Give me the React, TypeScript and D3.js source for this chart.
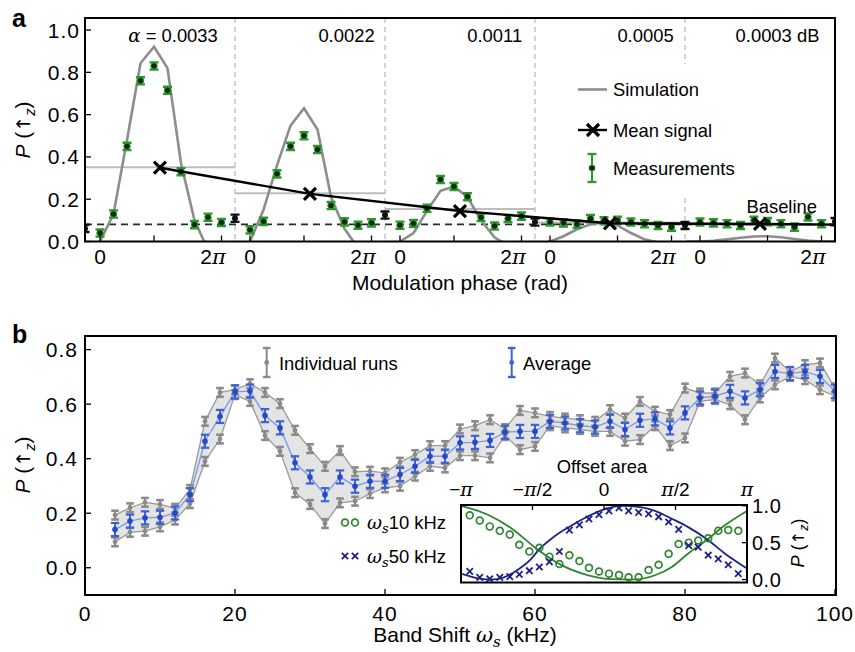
import React from 'react';
import * as d3 from 'd3';

const SANS = "'Liberation Sans', Arial, Helvetica, sans-serif";
const SERIF = "'DejaVu Serif', 'Liberation Serif', serif";

// ---------------- Panel a data ----------------
const SEGMENT_LABELS = ['0.0033', '0.0022', '0.0011', '0.0005', '0.0003 dB'];
// phase of measurements inside one segment, in units of π
const MEAS_PHASE = [0, 0.25, 0.5, 0.75, 1, 1.25, 1.5, 1.75, 2, 2.25];
const MEAS_SEG1 = [0.04, 0.13, 0.45, 0.76, 0.83, 0.715, 0.33, 0.08, 0.115, 0.09];
const MEAS_SEG2 = [0.055, 0.095, 0.32, 0.45, 0.5, 0.435, 0.17, 0.093, 0.077, 0.088];
const MEAS_SEG3 = [0.077, 0.085, 0.157, 0.293, 0.26, 0.212, 0.114, 0.073, 0.109, 0.12];
const MEAS_SEG4 = [0.092, 0.088, 0.082, 0.108, 0.098, 0.1, 0.092, 0.084, 0.076, 0.068];
const MEAS_SEG5 = [0.092, 0.088, 0.084, 0.076, 0.1, 0.094, 0.084, 0.068, 0.116, 0.084];
const MEASUREMENTS = [MEAS_SEG1, MEAS_SEG2, MEAS_SEG3, MEAS_SEG4, MEAS_SEG5];
const MEAS_ERR = 0.017;
// reference points at the segment edges (index of edge 0..5)
const REF_EDGE = [0, 1, 2, 3, 4, 5];
const REF_VALUES = [0.062, 0.11, 0.125, 0.092, 0.076, 0.094];
// simulation, phase in units of π
const SIM_PHASE = [-0.25, 0, 0.25, 0.5, 0.75, 1, 1.25, 1.5, 1.75, 2, 2.25, 2.5];
const SIM_SEG1 = [-0.1, 0.0, 0.13, 0.48, 0.843, 0.921, 0.82, 0.37, 0.1, -0.04, -0.12, -0.15];
const SIM_SEG2 = [-0.08, 0.0, 0.15, 0.36, 0.548, 0.63, 0.53, 0.21, 0.06, -0.03, -0.1, -0.1];
const SIM_SEG3 = [-0.05, 0.0, 0.04, 0.145, 0.24, 0.26, 0.21, 0.1, 0.02, -0.02, -0.04, -0.04];
const SIM_SEG4 = [-0.02, 0.0, 0.025, 0.058, 0.082, 0.09, 0.076, 0.04, 0.01, -0.005, -0.01, -0.01];
const SIM_SEG5 = [0.0, 0.0, 0.003, 0.01, 0.018, 0.024, 0.025, 0.02, 0.012, 0.005, 0.0, 0.0];
const SIMULATION = [SIM_SEG1, SIM_SEG2, SIM_SEG3, SIM_SEG4, SIM_SEG5];
const SIM_MEAN = [0.351, 0.228, 0.154, 0.09, 0.08];
const MEAN_PHASE = 1.11;
const MEAN_VALUES = [0.349, 0.225, 0.144, 0.086, 0.083];
const MEAN_LINE_END = 0.08;
const BASELINE = 0.081;
const A_YTICKS = [0, 0.2, 0.4, 0.6, 0.8, 1.0];
const A_TICK_PHASES = [[0, 1, 2.25], [0, 1, 2.25], [0, 1, 2.25], [0, 1.25, 2.25], [0, 1.25, 2.25]];
const A_TICK_LABEL_PHASES = [0, 2];
const A_TICK_LABELS = ['0', '2'];

// ---------------- Panel b data ----------------
const FREQ = [4, 6, 8, 10, 12, 14, 16, 18, 20, 22, 24, 26, 28, 30, 32, 34, 36, 38, 40, 42, 44, 46, 48, 50,
  52, 54, 56, 58, 60, 62, 64, 66, 68, 70, 72, 74, 76, 78, 80, 82, 84, 86, 88, 90, 92, 94, 96, 98, 100];
const AVERAGE = [0.14, 0.171, 0.183, 0.185, 0.201, 0.268, 0.464, 0.555, 0.645, 0.648, 0.558, 0.513, 0.385,
  0.333, 0.268, 0.333, 0.299, 0.317, 0.317, 0.342, 0.372, 0.409, 0.409, 0.458, 0.46, 0.467, 0.497, 0.5, 0.5,
  0.537, 0.531, 0.521, 0.516, 0.537, 0.507, 0.541, 0.546, 0.513, 0.568, 0.623, 0.629, 0.647, 0.623, 0.653,
  0.72, 0.712, 0.72, 0.702, 0.647];
const RUN_UPPER = [0.193, 0.22, 0.24, 0.232, 0.218, 0.287, 0.537, 0.643, 0.653, 0.675, 0.643, 0.602, 0.504,
  0.437, 0.372, 0.43, 0.352, 0.354, 0.348, 0.387, 0.415, 0.448, 0.448, 0.509, 0.521, 0.543, 0.51, 0.577,
  0.568, 0.555, 0.549, 0.543, 0.537, 0.58, 0.549, 0.61, 0.574, 0.562, 0.659, 0.641, 0.641, 0.702, 0.714,
  0.671, 0.769, 0.72, 0.745, 0.751, 0.66];
const RUN_LOWER = [0.095, 0.13, 0.134, 0.15, 0.175, 0.235, 0.39, 0.472, 0.635, 0.61, 0.485, 0.427, 0.275,
  0.232, 0.162, 0.238, 0.244, 0.272, 0.293, 0.299, 0.336, 0.372, 0.366, 0.411, 0.411, 0.403, 0.485, 0.433,
  0.445, 0.521, 0.513, 0.507, 0.5, 0.5, 0.464, 0.47, 0.521, 0.448, 0.476, 0.61, 0.617, 0.598, 0.543, 0.623,
  0.671, 0.702, 0.69, 0.653, 0.63];
const RUN_ERR = 0.016;
const AVG_ERR = 0.024;
const B_XTICKS = [0, 20, 40, 60, 80, 100];
const B_YTICKS = [0, 0.2, 0.4, 0.6, 0.8];

// ---------------- Inset data ----------------
const INSET_PHASE = [-2.95, -2.73, -2.51, -2.29, -2.07, -1.86, -1.64, -1.42, -1.2, -0.98, -0.76, -0.54, -0.33,
  -0.11, 0.11, 0.33, 0.54, 0.76, 0.98, 1.2, 1.42, 1.64, 1.86, 2.07, 2.29, 2.51, 2.73, 2.95];
const INSET_10KHZ = [0.87, 0.8, 0.72, 0.66, 0.61, 0.47, 0.38, 0.43, 0.31, 0.21, 0.33, 0.25, 0.16, 0.11, 0.08,
  0.06, 0.03, 0.03, 0.13, 0.2, 0.35, 0.48, 0.5, 0.53, 0.56, 0.66, 0.67, 0.66];
const INSET_50KHZ = [0.11, 0.03, 0.01, 0.03, 0.04, 0.07, 0.12, 0.17, 0.24, 0.38, 0.67, 0.74, 0.82, 0.88, 0.93,
  0.97, 0.93, 0.91, 0.89, 0.85, 0.78, 0.68, 0.46, 0.44, 0.33, 0.28, 0.2, 0.08];
const CURVE_10_PHASE = [-3.1416, -2.54, -2.03, -1.44, -0.857, -0.345, 0.17, 0.61, 1.12, 1.49, 1.85, 2.27, 2.66, 3.1416];
const CURVE_10_VALUES = [1.0, 0.874, 0.693, 0.398, 0.171, 0.058, 0.005, 0.0, 0.058, 0.171, 0.353, 0.543, 0.738, 0.93];
const CURVE_50_PHASE = [-3.1416, -2.8, -2.5, -2.2, -1.9, -1.6, -1.44, -1.1, -0.75, -0.4, 0.0, 0.4, 0.8, 1.12, 1.5, 1.85, 2.27, 2.66, 3.1416];
const CURVE_50_VALUES = [0.08, 0.02, 0.0, 0.03, 0.13, 0.28, 0.398, 0.58, 0.72, 0.84, 0.95, 1.0, 0.98, 0.93, 0.82, 0.71, 0.543, 0.35, 0.15];
const INSET_XTICKS = [-Math.PI, -Math.PI / 2, 0, Math.PI / 2, Math.PI];
const INSET_XLABELS = ['−π', '−π/2', '0', 'π/2', 'π'];
const INSET_YTICKS = [0, 0.5, 1.0];

// ---------------- layout / style ----------------
const SEG_SPAN = 2.778; // segment width (π units)
const SEG_OFFSET = 0.278; // phase 0 offset from segment start
const GREEN = '#2a9a2a';
const DOT_DARK = '#0c2a0c';
const SIM_GRAY = '#8d8d8d';
const RUN_GRAY = '#8a8a8a';
const AVG_BLUE = '#3d62d6';
const IN_GREEN = '#2d862d';
const IN_BLUE = '#20208c';

function ErrBar({ x, y0, y1, cap, color, sw, capW }: any) {
  return (
    <g stroke={color}>
      <line x1={x} x2={x} y1={y0} y2={y1} strokeWidth={sw} />
      <line x1={x - cap} x2={x + cap} y1={y0} y2={y0} strokeWidth={capW} />
      <line x1={x - cap} x2={x + cap} y1={y1} y2={y1} strokeWidth={capW} />
    </g>
  );
}

function XMark({ x, y, s, color, sw }: any) {
  return (
    <g stroke={color} strokeWidth={sw} strokeLinecap="butt">
      <line x1={x - s} y1={y - s} x2={x + s} y2={y + s} />
      <line x1={x - s} y1={y + s} x2={x + s} y2={y - s} />
    </g>
  );
}

function PLabel({ x, y, size }: any) {
  return (
    <text transform={`translate(${x},${y}) rotate(-90)`} textAnchor="middle" fontSize={size} fontFamily={SANS}>
      <tspan fontStyle="italic">P</tspan>
      <tspan> (</tspan>
      <tspan fontFamily="'DejaVu Sans', sans-serif" fontSize={size * 0.9}>↑</tspan>
      <tspan fontStyle="italic" fontSize={size * 0.7} dy={size * 0.22}>z</tspan>
      <tspan dy={-size * 0.22}>)</tspan>
    </text>
  );
}

export default function App() {
  // ---- panel a scales ----
  const aL = 85, aR = 835, aT = 18, aB = 241.5;
  const xa = d3.scaleLinear().domain([0, 5 * SEG_SPAN]).range([aL, aR]);
  const ya = d3.scaleLinear().domain([0, 1.057]).range([aB, aT]);
  const pos = (seg: number, ph: number) => seg * SEG_SPAN + SEG_OFFSET + ph;

  const simLine = d3.line<[number, number]>().x(d => xa(d[0])).y(d => ya(d[1]));
  const meanPts: [number, number][] = MEAN_VALUES.map((v, k) => [pos(k, MEAN_PHASE), v] as [number, number]);
  meanPts.push([5 * SEG_SPAN, MEAN_LINE_END]);

  // ---- panel b scales ----
  const bL = 85, bR = 836, bT = 336, bB = 595;
  const xb = d3.scaleLinear().domain([0, 100]).range([85, 835]);
  const yb = d3.scaleLinear().domain([-0.1, 0.85]).range([bB, bT]);
  const idx = FREQ.map((_, i) => i);
  const band = d3.area<number>().x(i => xb(FREQ[i])).y0(i => yb(RUN_LOWER[i])).y1(i => yb(RUN_UPPER[i]));
  const lineOf = (arr: number[]) => d3.line<number>().x(i => xb(FREQ[i])).y(i => yb(arr[i]))(idx) as string;

  // ---- inset scales ----
  const iL = 461, iR = 747, iT = 505, iB = 582.5;
  const xi = d3.scaleLinear().domain([-Math.PI, Math.PI]).range([iL, iR]);
  const yi = d3.scaleLinear().domain([-0.04, 1.01]).range([iB, iT]);
  const curve = (ph: number[], vals: number[]) =>
    d3.line<number>().x(i => xi(ph[i])).y(i => yi(vals[i])).curve(d3.curveMonotoneX)(ph.map((_, i) => i)) as string;

  const tickFont = 21;
  const annFont = 18.4;

  return (
    <svg width={855} height={652} viewBox="0 0 855 652" style={{ position: 'absolute', left: 0, top: 0, background: '#fff' }}
      fontFamily={SANS}>
      <defs>
        <clipPath id="clipA"><rect x={aL} y={aT} width={aR - aL} height={aB - aT} /></clipPath>
        <clipPath id="clipB"><rect x={bL} y={bT} width={bR - bL} height={bB - bT} /></clipPath>
        <clipPath id="clipI"><rect x={iL} y={iT} width={iR - iL} height={iB - iT} /></clipPath>
      </defs>
      <rect x={0} y={0} width={855} height={652} fill="#fff" />

      {/* ================= Panel a ================= */}
      <text x={12} y={27} fontSize={25} fontWeight="bold">a</text>
      <g clipPath="url(#clipA)">
        {[1, 2, 3, 4].map(k => (
          <line key={k} x1={xa(k * SEG_SPAN)} x2={xa(k * SEG_SPAN)} y1={aT} y2={aB}
            stroke="#c2c2c2" strokeWidth={1.4} strokeDasharray="5,4" />
        ))}
        {SIM_MEAN.map((v, k) => (
          <line key={k} x1={xa(k * SEG_SPAN)} x2={xa((k + 1) * SEG_SPAN)} y1={ya(v)} y2={ya(v)}
            stroke="#bdbdbd" strokeWidth={2} />
        ))}
        <line x1={aL} x2={aR} y1={ya(BASELINE)} y2={ya(BASELINE)} stroke="#2a2a2a" strokeWidth={1.8} strokeDasharray="7,5" />
        {SIMULATION.map((vals, k) => (
          <path key={k} d={simLine(vals.map((v, i) => [pos(k, SIM_PHASE[i]), v] as [number, number])) as string}
            fill="none" stroke={SIM_GRAY} strokeWidth={2.6} />
        ))}
        {MEASUREMENTS.map((vals, k) => vals.map((v, i) => {
          const x = xa(pos(k, MEAS_PHASE[i]));
          return (
            <g key={`m${k}-${i}`}>
              <ErrBar x={x} y0={ya(v + MEAS_ERR)} y1={ya(v - MEAS_ERR)} cap={4.5} color={GREEN} sw={2} capW={2.4} />
              <circle cx={x} cy={ya(v)} r={3.2} fill={DOT_DARK} stroke={GREEN} strokeWidth={1} />
            </g>
          );
        }))}
        {REF_VALUES.map((v, k) => {
          const x = xa(REF_EDGE[k] * SEG_SPAN);
          return (
            <g key={`r${k}`}>
              <ErrBar x={x} y0={ya(v + MEAS_ERR)} y1={ya(v - MEAS_ERR)} cap={4.5} color="#111" sw={2} capW={2.4} />
              <circle cx={x} cy={ya(v)} r={3} fill="#111" />
            </g>
          );
        })}
        <path d={simLine(meanPts) as string} fill="none" stroke="#000" strokeWidth={2.4} />
        {meanPts.slice(0, 5).map((p, k) => (
          <XMark key={k} x={xa(p[0])} y={ya(p[1])} s={6} color="#000" sw={3.2} />
        ))}
      </g>
      {/* legend a */}
      <rect x={566} y={64} width={200} height={130} fill="#fff" />
      <line x1={578} x2={607} y1={89.5} y2={89.5} stroke={SIM_GRAY} strokeWidth={2.6} />
      <text x={613} y={96} fontSize={annFont}>Simulation</text>
      <line x1={578} x2={607} y1={130} y2={130} stroke="#000" strokeWidth={2.4} />
      <XMark x={593} y={130} s={6} color="#000" sw={3.2} />
      <text x={613} y={136.5} fontSize={annFont}>Mean signal</text>
      <ErrBar x={592} y0={154} y1={182} cap={4.5} color={GREEN} sw={2} capW={2.4} />
      <circle cx={592} cy={168} r={3} fill={DOT_DARK} stroke={GREEN} strokeWidth={1} />
      <text x={613} y={174.5} fontSize={annFont}>Measurements</text>
      <text x={817} y={213} fontSize={annFont} textAnchor="end">Baseline</text>
      {/* segment labels */}
      <text x={173} y={41.5} fontSize={annFont} textAnchor="middle">
        <tspan fontFamily={SERIF} fontStyle="italic">α</tspan>
        <tspan>{' = ' + SEGMENT_LABELS[0]}</tspan>
      </text>
      {SEGMENT_LABELS.slice(1).map((s, j) => (
        <text key={s} x={[346.5, 494.7, 645.5, 777.5][j]} y={41.5} fontSize={annFont} textAnchor="middle">{s}</text>
      ))}
      {/* frame a */}
      <rect x={aL} y={aT} width={aR - aL} height={aB - aT} fill="none" stroke="#000" strokeWidth={2} />
      {A_YTICKS.map(t => (
        <g key={t}>
          <line x1={aL} x2={aL + 6} y1={ya(t)} y2={ya(t)} stroke="#000" strokeWidth={1.3} />
          <text x={80} y={ya(t) + 7.5} fontSize={tickFont} textAnchor="end" letterSpacing={1}>{t.toFixed(1)}</text>
        </g>
      ))}
      {A_TICK_PHASES.map((phs, k) => phs.map(p => (
        <line key={`t${k}-${p}`} x1={xa(pos(k, p))} x2={xa(pos(k, p))} y1={aB} y2={aB - 6} stroke="#000" strokeWidth={1.3} />
      )))}
      {[0, 1, 2, 3, 4].map(k => A_TICK_LABEL_PHASES.map((p, j) => (
        <text key={`tl${k}-${j}`} x={xa(pos(k, p)) + (j === 1 ? 5 : 0)} y={264} fontSize={tickFont} textAnchor="middle">
          <tspan>{A_TICK_LABELS[j]}</tspan>
          {j === 1 && <tspan fontFamily={SERIF} fontStyle="italic">π</tspan>}
        </text>
      )))}
      <text x={460} y={290} fontSize={21} textAnchor="middle">Modulation phase (rad)</text>
      <PLabel x={30} y={130} size={21} />

      {/* ================= Panel b ================= */}
      <text x={12} y={343} fontSize={25} fontWeight="bold">b</text>
      <g clipPath="url(#clipB)">
        <path d={band(idx) as string} fill="#e4e4e4" />
        <path d={lineOf(RUN_UPPER)} fill="none" stroke="#9a9a9a" strokeWidth={1.3} />
        <path d={lineOf(RUN_LOWER)} fill="none" stroke="#9a9a9a" strokeWidth={1.3} />
        <path d={lineOf(AVERAGE)} fill="none" stroke="#7f9ce8" strokeWidth={1.4} />
        {[RUN_UPPER, RUN_LOWER].map((arr, r) => idx.map(i => (
          <g key={`g${r}-${i}`}>
            <ErrBar x={xb(FREQ[i])} y0={yb(arr[i] + RUN_ERR)} y1={yb(arr[i] - RUN_ERR)} cap={3.8} color={RUN_GRAY} sw={2} capW={2.6} />
            <circle cx={xb(FREQ[i])} cy={yb(arr[i])} r={2.4} fill={RUN_GRAY} />
          </g>
        )))}
        {idx.map(i => (
          <g key={`a${i}`}>
            <ErrBar x={xb(FREQ[i])} y0={yb(AVERAGE[i] + AVG_ERR)} y1={yb(AVERAGE[i] - AVG_ERR)} cap={4.2} color={AVG_BLUE} sw={2} capW={2.2} />
            <circle cx={xb(FREQ[i])} cy={yb(AVERAGE[i])} r={2.8} fill="#2448c8" />
          </g>
        ))}
      </g>
      {/* legend b */}
      <ErrBar x={266.7} y0={348} y1={377} cap={3.8} color={RUN_GRAY} sw={2} capW={2.4} />
      <circle cx={266.7} cy={362.5} r={2.4} fill={RUN_GRAY} />
      <text x={279} y={369.5} fontSize={annFont}>Individual runs</text>
      <ErrBar x={511.7} y0={348} y1={377} cap={3.8} color={AVG_BLUE} sw={2} capW={2.4} />
      <circle cx={511.7} cy={362.5} r={2.4} fill={AVG_BLUE} />
      <text x={523} y={369.5} fontSize={annFont}>Average</text>

      {/* frame b */}
      <rect x={bL} y={bT} width={bR - bL} height={bB - bT} fill="none" stroke="#000" strokeWidth={2} />
      {B_YTICKS.map(t => (
        <g key={t}>
          <line x1={bL} x2={bL + 6} y1={yb(t)} y2={yb(t)} stroke="#000" strokeWidth={1.3} />
          <text x={78} y={yb(t) + 7.5} fontSize={tickFont} textAnchor="end" letterSpacing={1}>{t.toFixed(1)}</text>
        </g>
      ))}
      {B_XTICKS.map(t => (
        <g key={t}>
          <line x1={xb(t)} x2={xb(t)} y1={bB} y2={bB - 6} stroke="#000" strokeWidth={1.3} />
          <text x={xb(t)} y={621} fontSize={tickFont} textAnchor="middle" letterSpacing={1}>{t}</text>
        </g>
      ))}
      <text x={465} y={642} fontSize={21} textAnchor="middle">
        <tspan>Band Shift </tspan>
        <tspan fontFamily={SERIF} fontStyle="italic">ω</tspan>
        <tspan fontFamily={SERIF} fontStyle="italic" fontSize={15} dy={5}>s</tspan>
        <tspan dy={-5}> (kHz)</tspan>
      </text>
      <PLabel x={30} y={465} size={21} />

      {/* ================= Inset ================= */}
      <rect x={iL} y={iT} width={iR - iL} height={iB - iT} fill="#fff" />
      <g clipPath="url(#clipI)">
        <path d={curve(CURVE_10_PHASE, CURVE_10_VALUES)} fill="none" stroke={IN_GREEN} strokeWidth={1.8} />
        <path d={curve(CURVE_50_PHASE, CURVE_50_VALUES)} fill="none" stroke={IN_BLUE} strokeWidth={1.8} />
        {INSET_PHASE.map((p, i) => (
          <circle key={`c${i}`} cx={xi(p)} cy={yi(INSET_10KHZ[i])} r={3.4} fill="none" stroke={IN_GREEN} strokeWidth={1.7} />
        ))}
        {INSET_PHASE.map((p, i) => (
          <XMark key={`x${i}`} x={xi(p)} y={yi(INSET_50KHZ[i])} s={3.2} color={IN_BLUE} sw={1.8} />
        ))}
      </g>
      <rect x={iL} y={iT} width={iR - iL} height={iB - iT} fill="none" stroke="#000" strokeWidth={2} />
      {INSET_XTICKS.slice(1, 4).map(t => (
        <line key={t} x1={xi(t)} x2={xi(t)} y1={iT} y2={iT + 5} stroke="#000" strokeWidth={1.3} />
      ))}
      {INSET_YTICKS.map(t => (
        <g key={t}>
          <line x1={iR} x2={iR - 5} y1={yi(t)} y2={yi(t)} stroke="#000" strokeWidth={1.3} />
          <text x={752} y={yi(t) + 7} fontSize={20} letterSpacing={0.5}>{t.toFixed(1)}</text>
        </g>
      ))}
      {INSET_XTICKS.map((t, j) => (
        <text key={j} x={xi(t)} y={496} fontSize={19} textAnchor="middle">
          {INSET_XLABELS[j].split('').map((ch, q) => (
            ch === 'π'
              ? <tspan key={q} fontFamily={SERIF} fontStyle="italic">π</tspan>
              : <tspan key={q}>{ch}</tspan>
          ))}
        </text>
      ))}
      <text x={602} y={473} fontSize={annFont} textAnchor="middle">Offset area</text>
      <PLabel x={804} y={543} size={18} />
      {/* inset legend */}
      <circle cx={345} cy={522.5} r={3.4} fill="none" stroke={IN_GREEN} strokeWidth={1.7} />
      <circle cx={355} cy={522.5} r={3.4} fill="none" stroke={IN_GREEN} strokeWidth={1.7} />
      <text x={367} y={529} fontSize={annFont}>
        <tspan fontFamily={SERIF} fontStyle="italic">ω</tspan>
        <tspan fontFamily={SERIF} fontStyle="italic" fontSize={13} dy={4}>s</tspan>
        <tspan dy={-4}>10 kHz</tspan>
      </text>
      <XMark x={345} y={556} s={3.2} color={IN_BLUE} sw={1.8} />
      <XMark x={355} y={556} s={3.2} color={IN_BLUE} sw={1.8} />
      <text x={367} y={562.5} fontSize={annFont}>
        <tspan fontFamily={SERIF} fontStyle="italic">ω</tspan>
        <tspan fontFamily={SERIF} fontStyle="italic" fontSize={13} dy={4}>s</tspan>
        <tspan dy={-4}>50 kHz</tspan>
      </text>
    </svg>
  );
}
